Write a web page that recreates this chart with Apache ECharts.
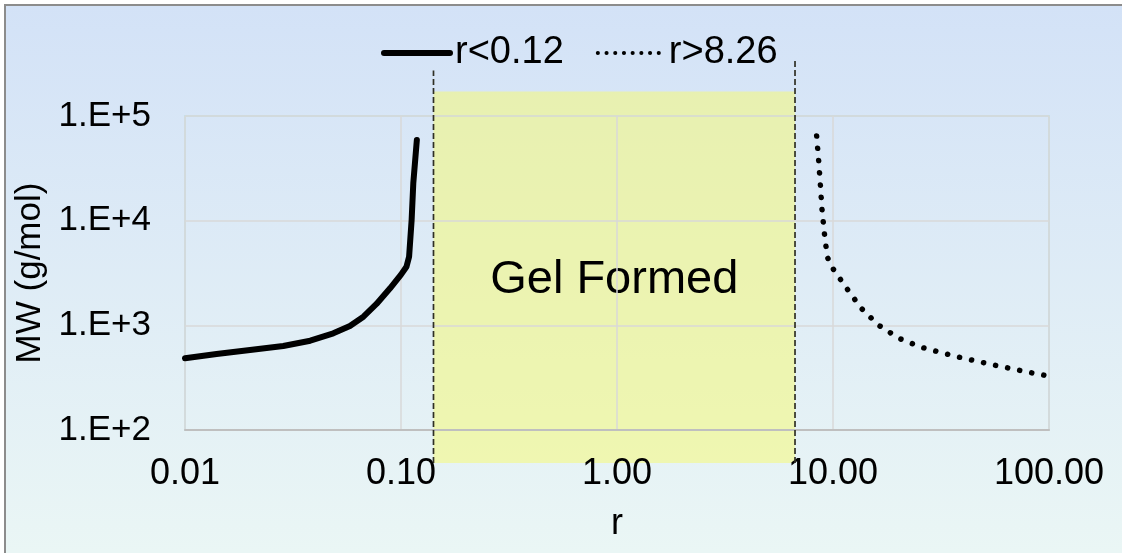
<!DOCTYPE html>
<html><head><meta charset="utf-8">
<script src="https://cdn.jsdelivr.net/npm/echarts@6/dist/echarts.min.js"></script>
<style>
html,body{margin:0;padding:0;width:1122px;height:553px;overflow:hidden;background:#fff;}
#bg{position:absolute;left:4px;top:4px;width:1200px;height:600px;border-left:2px solid #8c8c8c;border-top:2px solid #8c8c8c;background:linear-gradient(to bottom,#d3e2f7 0px,#eaf6f5 545px,#eaf6f5 600px);}
#chart{position:absolute;left:0;top:0;width:1122px;height:553px;}
</style></head><body>
<div id="bg"></div><div id="chart"></div>
<script>
// ---- data ----
const seriesNames = ['r<0.12', 'r>8.26'];
const lowR  = [0.01, 0.014, 0.02, 0.0285, 0.038, 0.0486, 0.058, 0.067, 0.077, 0.089, 0.1, 0.106, 0.109, 0.112, 0.114, 0.1184];
const lowMW = [484, 532, 581, 635, 713, 839, 986, 1209, 1600, 2259, 3050, 3631, 4528, 10140, 22750, 58900];
const highR  = [8.40, 8.58, 8.74, 8.89, 9.12, 9.41, 9.97, 11.57, 13.48, 16.21, 20.21, 25.73, 37.36, 54.66, 91.2, 95];
const highMW = [64400, 37700, 22080, 12920, 7620, 4495, 3504, 2257, 1464, 1007, 751, 616, 502, 421, 338, 334];
const gelRange = [0.1414, 6.67];      // r bounds of the gel region
const gelLabel = 'Gel Formed';
const gelTop = 0.917;                  // fraction of annotation band
const dashTops = [0.969, 1.0];
const xName = 'r';
const yName = 'MW (g/mol)';

const FONT = "'Liberation Sans', Arial, sans-serif";
const chart = echarts.init(document.getElementById('chart'));
const option = {
  backgroundColor: 'transparent',
  animation: false,
  textStyle: {fontFamily: FONT, color: '#000'},
  legend: {
    data: [
      {name: seriesNames[0], itemStyle: {opacity: 0}, lineStyle: {width: 6, cap: 'round', color: '#000'}},
      {name: seriesNames[1], itemStyle: {opacity: 0}, lineStyle: {width: 4, type: [0.1, 8.6], cap: 'round', color: '#000'}}
    ],
    left: 376, top: 29,
    itemWidth: 66, itemHeight: 14, itemGap: 32,
    textStyle: {fontFamily: FONT, fontSize: 38, color: '#000'}
  },
  grid: [
    {left: 185, right: 73, top: 116, bottom: 123, show: true, borderColor: '#b4dcdf', borderWidth: 1.5, backgroundColor: 'transparent'},
    {left: 185, right: 73, top: 58, bottom: 90}
  ],
  xAxis: [
    {type: 'log', logBase: 10, min: 0.01, max: 100, gridIndex: 0, z: 3,
     name: xName, nameLocation: 'middle', nameGap: 76,
     nameTextStyle: {fontFamily: FONT, fontSize: 36, color: '#000'},
     axisLine: {show: true, lineStyle: {color: '#bfbfbf', width: 2}},
     axisTick: {show: false},
     axisLabel: {fontFamily: FONT, fontSize: 36, color: '#000', margin: 26, formatter: v => v.toFixed(2)},
     splitLine: {show: true, lineStyle: {color: '#d9d9d9', width: 1.5}},
     minorTick: {show: false}},
    {type: 'log', logBase: 10, min: 0.01, max: 100, gridIndex: 1, show: false}
  ],
  yAxis: [
    {type: 'log', logBase: 10, min: 100, max: 100000, gridIndex: 0, z: 3,
     name: yName, nameLocation: 'middle', nameGap: 137, nameRotate: 90,
     nameTextStyle: {fontFamily: FONT, fontSize: 35, color: '#000'},
     axisLine: {show: false}, axisTick: {show: false},
     axisLabel: {fontFamily: FONT, fontSize: 35, color: '#000', margin: 34,
                 formatter: v => '1.E+' + Math.round(Math.log10(v))},
     splitLine: {show: true, lineStyle: {color: '#d9d9d9', width: 1.5}}},
    {type: 'value', min: 0, max: 1, gridIndex: 1, show: false}
  ],
  series: [
    {type: 'line', name: 'gel', xAxisIndex: 1, yAxisIndex: 1, z: 1,
     data: [[gelRange[0], 0]], showSymbol: false, symbol: 'none', silent: true,
     markArea: {silent: true, z: 1,
       itemStyle: {color: 'rgba(246,250,120,0.55)'},
       label: {show: true, position: 'inside', formatter: gelLabel, fontFamily: FONT, fontSize: 47, color: '#000', offset: [0, 3]},
       data: [[{xAxis: gelRange[0], yAxis: 0}, {xAxis: gelRange[1], yAxis: gelTop}]]}},
    {type: 'line', name: 'dashL', xAxisIndex: 1, yAxisIndex: 1, z: 4, symbol: 'none', silent: true,
     data: [[gelRange[0], 0], [gelRange[0], dashTops[0]]],
     lineStyle: {color: '#2f2f25', width: 1.7, type: [6, 3]}},
    {type: 'line', name: 'dashR', xAxisIndex: 1, yAxisIndex: 1, z: 4, symbol: 'none', silent: true,
     data: [[gelRange[1], 0], [gelRange[1], dashTops[1]]],
     lineStyle: {color: '#2f2f25', width: 1.7, type: [6, 3]}},
    {type: 'line', name: seriesNames[0], xAxisIndex: 0, yAxisIndex: 0, z: 5, symbol: 'none',
     data: lowR.map((r, i) => [r, lowMW[i]]),
     lineStyle: {color: '#000', width: 6, cap: 'round', join: 'round'}, itemStyle: {color: '#000'}},
    {type: 'line', name: seriesNames[1], xAxisIndex: 0, yAxisIndex: 0, z: 5, symbol: 'none',
     data: highR.map((r, i) => [r, highMW[i]]),
     lineStyle: {color: '#000', width: 5.5, type: [0.1, 12.2], cap: 'round'}, itemStyle: {color: '#000'}}
  ]
};
chart.setOption(option);
</script>
</body></html>
